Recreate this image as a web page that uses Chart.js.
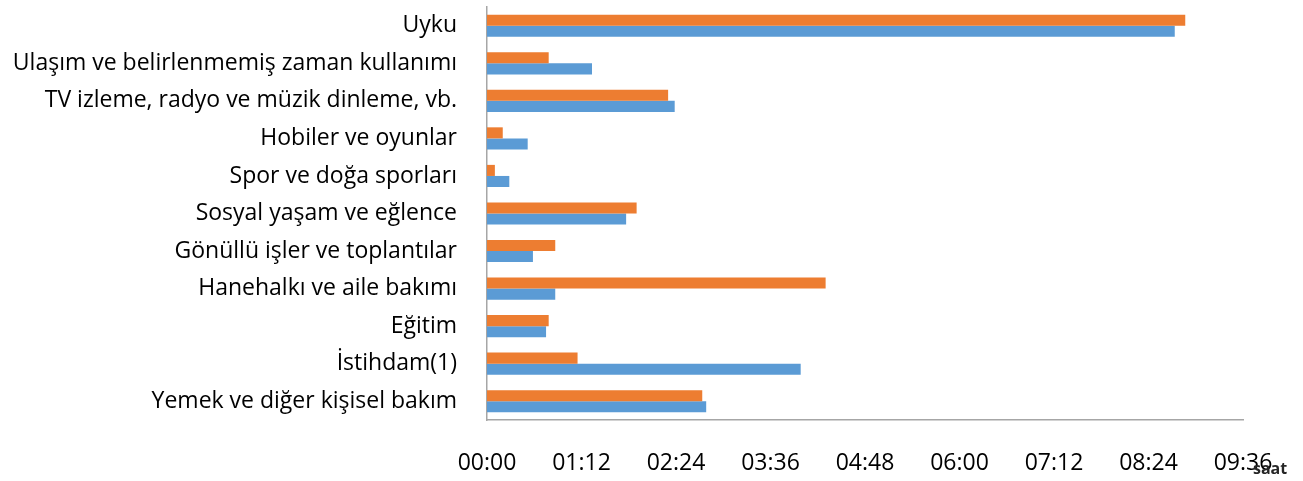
<!DOCTYPE html>
<html>
<head>
<meta charset="utf-8">
<script src="https://cdn.jsdelivr.net/npm/chart.js@4/dist/chart.umd.min.js"></script>
<style>
  html, body { margin: 0; padding: 0; background: #fff; }
  #wrap { width: 1303px; height: 481px; }
</style>
</head>
<body>
<div id="wrap"><canvas id="chart"></canvas></div>
<script>
// categories, top to bottom
const categories = [
  'Uyku',
  'Ulaşım ve belirlenmemiş zaman kullanımı',
  'TV izleme, radyo ve müzik dinleme, vb.',
  'Hobiler ve oyunlar',
  'Spor ve doğa sporları',
  'Sosyal yaşam ve eğlence',
  'Gönüllü işler ve toplantılar',
  'Hanehalkı ve aile bakımı',
  'Eğitim',
  'İstihdam(1)',
  'Yemek ve diğer kişisel bakım',
];

// minutes per day
const orangeMinutes = [532, 47, 138, 12, 6, 114, 52, 258, 47, 69, 164];
const blueMinutes = [524, 80, 143, 31, 17, 106, 35, 52, 45, 239, 167];

// x ticks every 01:12
const tickStep = 72;
const axisMax = 576;
const unitLabel = 'saat';

const fontFamily = '"Open Sans", sans-serif';

function hhmm(min) {
  const h = Math.floor(min / 60);
  const m = Math.round(min % 60);
  return String(h).padStart(2, '0') + ':' + String(m).padStart(2, '0');
}

const unitPlugin = {
  id: 'unitLabel',
  afterDraw(chart) {
    const ctx = chart.ctx;
    const x = chart.scales.x;
    ctx.save();
    ctx.font = 'bold 16px ' + fontFamily;
    ctx.fillStyle = '#262626';
    ctx.textAlign = 'left';
    ctx.textBaseline = 'middle';
    ctx.fillText(unitLabel, x.right + 10, 469);
    ctx.restore();
  },
};

// keep the label half-heights from pushing the plot area around
function noPad(scale) {
  scale.paddingTop = 0;
  scale.paddingBottom = 0;
}

const ctx = document.getElementById('chart').getContext('2d');
new Chart(ctx, {
  type: 'bar',
  data: {
    labels: categories,
    datasets: [
      {
        data: orangeMinutes,
        backgroundColor: '#ED7D31',
        borderWidth: 0,
        categoryPercentage: 0.59,
        barPercentage: 1,
      },
      {
        data: blueMinutes,
        backgroundColor: '#5B9BD5',
        borderWidth: 0,
        categoryPercentage: 0.59,
        barPercentage: 1,
      },
    ],
  },
  options: {
    indexAxis: 'y',
    responsive: true,
    maintainAspectRatio: false,
    animation: false,
    layout: { padding: { top: 7, right: 60, bottom: 0, left: 0 } },
    plugins: {
      legend: { display: false },
      tooltip: { enabled: false },
    },
    scales: {
      x: {
        min: 0,
        max: axisMax,
        ticks: {
          stepSize: tickStep,
          callback: (v) => hhmm(v),
          color: '#000',
          font: { family: fontFamily, size: 23 },
          padding: 30,
          maxRotation: 0,
        },
        grid: { display: false, drawTicks: false },
        border: { display: true, color: '#a6a6a6', width: 1.5 },
        afterFit(scale) { scale.height = 61; noPad(scale); },
      },
      y: {
        ticks: {
          color: '#000',
          font: { family: fontFamily, size: 23 },
          padding: 30,
          autoSkip: false,
        },
        grid: { display: false, drawTicks: false },
        border: { display: true, color: '#a6a6a6', width: 1.5 },
        afterFit(scale) { scale.width = 487; noPad(scale); },
      },
    },
  },
  plugins: [unitPlugin],
});
</script>
</body>
</html>
